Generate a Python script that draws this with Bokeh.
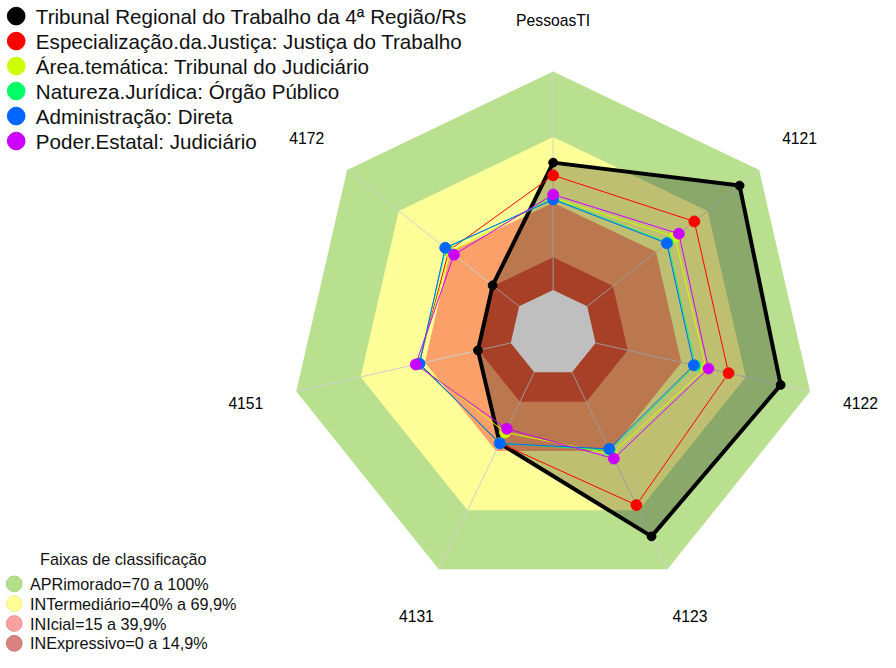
import numpy as np
from bokeh.plotting import figure
from bokeh.models import Range1d
from bokeh.embed import file_html
from bokeh.resources import INLINE
from bokeh.core.properties import value

# ---------------- data ----------------
axis_labels = ["PessoasTI", "4121", "4122", "4123", "4131", "4151", "4172"]

series_names = [
    "Tribunal Regional do Trabalho da 4ª Região/Rs",
    "Especialização.da.Justiça: Justiça do Trabalho",
    "Área.temática: Tribunal do Judiciário",
    "Natureza.Jurídica: Órgão Público",
    "Administração: Direta",
    "Poder.Estatal: Judiciário",
]
series_colors = ["#000000", "#FF0000", "#CCFF00", "#00FF66", "#0066FF", "#CC00FF"]

tribunal = [58.3, 88.6, 86.3, 83.3, 36.1, 15.3, 15.4]
especializacao = [52.5, 62.3, 62.0, 67.4, 36.0, 42.8, 40.9]
area_tematica = [42.2, 51.0, 51.5, 41.5, 30.5, 43.0, 40.0]
natureza = [41.8, 46.8, 46.6, 39.6, 36.0, 42.8, 42.6]
administracao = [41.4, 46.3, 45.8, 38.9, 36.1, 42.5, 43.0]
poder = [43.7, 53.3, 52.6, 43.8, 28.7, 44.3, 37.9]
series_values = [tribunal, especializacao, area_tematica, natureza, administracao, poder]

band_limits = [100, 70, 40, 15, 0]
band_fill = ["#b9e08e", "#ffff99", "#faa068", "#e05535", "#ffffff"]
band_labels = ["APRimorado=70 a 100%", "INTermediário=40% a 69,9%",
               "INIcial=15 a 39,9%", "INExpressivo=0 a 14,9%"]
band_legend_colors = ["#b5de8a", "#ffff99", "#f9a0a0", "#d98282"]
band_legend_lines = ["#a6d27a", "#f0f08a", "#ee9090", "#c87070"]
band_title = "Faixas de classificação"

# ---------------- geometry ----------------
R0 = 44.3      # radius of value 0
K = 2.24       # radius per unit of value
LABEL_V = 123.5
n = len(axis_labels)
angles = np.deg2rad(90 - np.arange(n) * 360.0 / n)


def rad(v):
    return R0 + K * np.asarray(v, dtype=float)


def polar(vals):
    r = rad(vals)
    return list(r * np.cos(angles)), list(r * np.sin(angles))


# layout space of 896 x 668 units mapped onto the figure
CX, CY = 562.7, 341.0
LW, LH = 896, 668
W, H = 880, 652
S = W / LW   # scale for fonts / marker sizes

p = figure(width=W, height=H, output_backend="svg", toolbar_location=None,
           x_range=Range1d(-CX, LW - CX), y_range=Range1d(CY - LH, CY),
           x_axis_location=None, y_axis_location=None, min_border=0,
           background_fill_color="white", border_fill_color="white")
p.grid.visible = False
p.outline_line_color = None

FONT = value("Liberation Sans")


def px(v):
    return f"{v * S:.1f}px"


# bands
for lim, col in zip(band_limits, band_fill):
    xs, ys = polar([lim] * n)
    p.patch(xs, ys, fill_color=col, line_color=None)

# radial axis lines
x0, y0 = polar([0] * n)
x1, y1 = polar([100] * n)
p.segment(x0, y0, x1, y1, line_color="#cfcfcf", line_width=1)

# series
for i, (vals, col) in enumerate(zip(series_values, series_colors)):
    xs, ys = polar(vals)
    if i == 0:
        p.patch(xs, ys, fill_color="black", fill_alpha=0.25, line_color="black", line_width=4)
        p.scatter(xs, ys, size=9 * S, fill_color="black", line_color="black")
    else:
        p.line(xs + xs[:1], ys + ys[:1], line_color=col, line_width=1)
        p.scatter(xs, ys, size=11 * S, fill_color=col, line_color=col)

# axis labels
lx, ly = polar([LABEL_V] * n)
p.text(lx, ly, text=axis_labels, text_align="center", text_baseline="middle",
       text_font=FONT, text_font_size=px(16), text_color="black")

# top legend
leg_y = [CY - (16 + 25.6 * k) for k in range(len(series_names))]
p.scatter([16 - CX] * len(series_names), leg_y, size=18 * S, fill_color=series_colors,
          line_color=series_colors)
p.text([36 - CX] * len(series_names), leg_y, text=series_names, text_align="left",
       text_baseline="middle", text_font=FONT, text_font_size=px(21), text_color="#111111")

# bottom legend
p.text([125 - CX], [CY - 572], text=[band_title], text_align="center",
       text_baseline="middle", text_font=FONT, text_font_size=px(16.5), text_color="#111111")
bl_y = [CY - (597.7 + 20.3 * k) for k in range(len(band_labels))]
p.scatter([14 - CX] * len(band_labels), bl_y, size=16 * S, fill_color=band_legend_colors,
          line_color=band_legend_lines)
p.text([30 - CX] * len(band_labels), bl_y, text=band_labels, text_align="left",
       text_baseline="middle", text_font=FONT, text_font_size=px(16.5), text_color="#111111")

open("out.html", "w").write(file_html(p, INLINE))
